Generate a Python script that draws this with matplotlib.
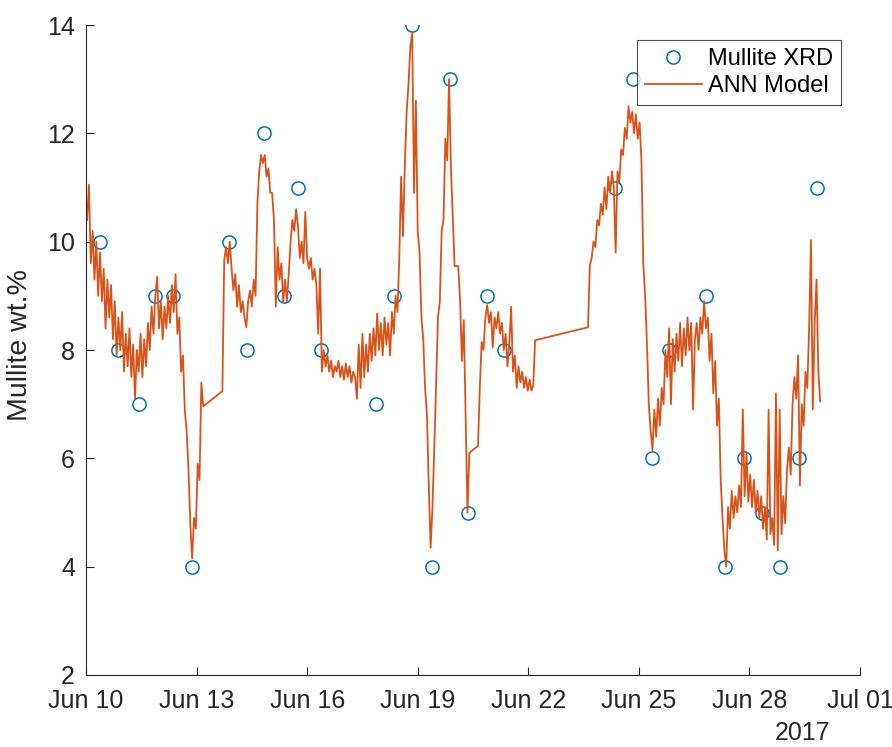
import numpy as np
import pandas as pd
import matplotlib
matplotlib.use("Agg")
import matplotlib.pyplot as plt
import matplotlib.dates as mdates

plt.rcParams['font.family'] = ['Liberation Sans', 'DejaVu Sans']

t0 = pd.Timestamp('2017-06-10')

# XRD measurements (days after Jun 10, wt.%)
xrd_days = [0.38, 0.87, 1.44, 1.87, 2.36, 2.88,
            3.88, 4.37, 4.83, 5.38, 5.76, 6.37,
            7.87, 8.36, 8.85, 9.38, 9.88, 10.37, 10.87, 11.35,
            14.35, 14.85, 15.35, 15.82, 16.83, 17.35, 17.84, 18.34, 18.84, 19.34, 19.83]
xrd_vals = [10, 8, 7, 9, 9, 4,
            10, 8, 12, 9, 11, 8,
            7, 9, 14, 4, 13, 5, 9, 8,
            11, 13, 6, 8, 9, 4, 6, 5, 4, 6, 11]

# ANN model output, sampled every 0.05 day, in blocks separated by gaps
dt = 0.05

ann_a_start = 0.03
ann_a = [10.4, 11.05, 9.6, 10.2, 9.3, 10.0, 9.0, 9.8, 8.9, 9.5,
         8.4, 9.3, 8.6, 9.2, 8.2, 8.9, 7.9, 8.6, 8.0, 8.7,
         7.6, 8.3, 7.7, 8.4, 7.5, 8.1, 7.1, 8.0, 7.6, 8.3,
         7.5, 8.2, 7.7, 8.5, 8.0, 8.8, 8.3, 9.0, 9.35, 8.4,
         8.9, 8.2, 8.8, 8.4, 9.0, 8.5, 9.2, 8.7, 9.4, 8.3,
         8.6, 7.6, 7.9, 6.9, 6.5, 5.8, 4.8, 4.15, 4.9, 4.7,
         5.9, 5.6, 7.4, 6.96]

ann_b_start = 3.70
ann_b = [7.24, 9.65, 9.9, 9.6, 10.0, 9.5, 9.1, 9.4, 8.8, 9.2,
         8.7, 8.9, 8.6, 8.42, 8.9, 9.1, 8.8, 9.3, 9.0, 10.7,
         11.3, 11.6, 11.45, 11.6, 11.2, 11.35, 10.9, 10.9, 10.4, 8.8,
         9.9, 9.3, 9.6, 8.9, 9.3, 8.9, 9.4, 10.0, 10.4, 10.2,
         10.6, 10.3, 9.7, 10.0, 9.6, 10.55, 9.7, 9.5, 9.7, 9.3,
         9.5, 9.2, 8.3, 9.5, 7.6, 8.0, 7.7, 7.9, 7.6, 7.8,
         7.5, 7.7, 7.6, 7.8, 7.5, 7.7, 7.45, 7.75, 7.5, 7.7,
         7.4, 7.6, 7.5, 7.1, 8.1, 7.3, 8.3, 7.5, 8.1, 7.6,
         8.3, 7.8, 8.4, 7.9, 8.67, 8.0, 8.5, 7.9, 8.6, 8.1,
         8.5, 7.9, 8.7, 8.3, 9.0, 8.7, 9.7, 11.2, 10.1, 11.4,
         12.4, 12.9, 13.6, 13.85, 10.9, 12.6, 10.2, 9.8, 8.6, 8.2,
         7.3, 6.8, 5.5, 4.35, 5.1, 6.2, 7.4, 8.6, 8.9, 10.2,
         10.4, 11.9, 11.5, 13.0, 11.4, 10.5, 9.55]

ann_c_start = 10.10
ann_c = [9.55, 8.9, 7.8, 8.55, 6.8, 5.0, 6.1]

ann_d_start = 10.635
ann_d = [6.23, 7.3, 8.15, 8.0, 8.6, 8.83, 8.5, 8.7, 8.05, 8.6,
         8.4, 8.7, 8.3, 8.5, 8.0, 8.3, 7.7, 8.1, 8.8, 7.6,
         7.9, 7.3, 7.7, 7.4, 7.6, 7.3, 7.5, 7.25, 7.45, 7.25,
         7.35, 8.18]

ann_e_start = 13.62
ann_e = [8.42, 9.57, 9.7, 10.0, 9.9, 10.4, 10.3, 10.7, 10.5, 11.0,
         10.6, 11.2, 10.9, 11.3, 11.0, 9.8, 11.3, 11.1, 11.7, 11.6,
         12.1, 11.9, 12.5, 12.2, 12.4, 12.0, 12.35, 11.9, 12.2, 11.5,
         9.6, 9.0, 8.1, 7.0, 6.5, 6.15, 6.9, 6.4, 7.1, 6.6,
         7.3, 7.0, 8.0, 7.5, 8.4, 7.0, 8.2, 7.6, 8.3, 7.8,
         8.5, 7.7, 8.4, 7.9, 8.6, 8.0, 8.5, 6.9, 8.2, 8.5,
         8.0, 8.6, 8.3, 8.9, 8.4, 8.6, 7.8, 8.3, 7.2, 7.8,
         6.6, 7.1, 5.6, 4.9, 4.3, 4.0, 5.1, 4.7, 5.4, 4.9,
         5.3, 5.0, 5.5, 5.1, 6.9, 5.3, 6.1, 5.2, 5.7, 5.1,
         5.6, 5.0, 5.4, 4.9, 5.3, 4.7, 5.1, 4.5, 6.9, 4.6,
         4.9, 4.4, 7.2, 4.3, 6.9, 4.6, 5.3, 4.8, 5.8, 6.2,
         5.7, 7.0, 7.5, 7.1, 7.9, 5.5, 7.0, 6.6, 7.6, 7.3,
         8.4, 10.03, 6.9, 8.5, 9.3, 7.6, 7.05]

ann_days = []
ann_vals = []
for start, vals in [(ann_a_start, ann_a), (ann_b_start, ann_b), (ann_c_start, ann_c),
                    (ann_d_start, ann_d), (ann_e_start, ann_e)]:
    ann_days.extend(start + dt * np.arange(len(vals)))
    ann_vals.extend(vals)

xrd_t = t0 + pd.to_timedelta(xrd_days, unit='D')
ann_t = t0 + pd.to_timedelta(ann_days, unit='D')

fig = plt.figure(figsize=(8.92, 7.47), dpi=100)
ax = fig.add_axes([86 / 892, 72 / 747, 774 / 892, 650 / 747])

axcol = '#262626'
ax.plot(xrd_t, xrd_vals, 'o', mfc='none', mec='#0072BD', mew=1.1, ms=9.5, label='Mullite XRD')
ax.plot(ann_t, ann_vals, '-', color='#D95319', lw=1.3, label='ANN Model')

ax.set_xlim(pd.Timestamp('2017-06-10'), pd.Timestamp('2017-07-01'))
ax.set_ylim(2, 14)
ax.set_yticks(range(2, 15, 2))
ax.xaxis.set_major_locator(mdates.DayLocator(bymonthday=[1, 10, 13, 16, 19, 22, 25, 28]))
ax.xaxis.set_major_formatter(mdates.DateFormatter('%b %d'))

for side in ['top', 'right']:
    ax.spines[side].set_visible(False)
for side in ['left', 'bottom']:
    ax.spines[side].set_color(axcol)
    ax.spines[side].set_linewidth(0.8)
ax.tick_params(direction='in', length=6, width=0.8, colors=axcol, labelsize=18)
ax.tick_params(axis='x', pad=10)
ax.tick_params(axis='y', pad=8)
ax.set_ylabel('Mullite wt.%', fontsize=20.5, color=axcol)
ax.yaxis.set_label_coords(-0.0685, 0.508)
fig.text(803 / 892, 1 - 721 / 747, '2017', ha='center', va='top',
         fontsize=18, color=axcol)

leg = ax.legend(loc='upper right', bbox_to_anchor=(841 / 892, 1 - 40 / 747),
                bbox_transform=fig.transFigure, borderaxespad=0, fontsize=17,
                frameon=True, fancybox=False, edgecolor=axcol, handlelength=2.4,
                borderpad=0.35, labelspacing=0.2, handletextpad=0.25)
leg.get_frame().set_linewidth(0.8)

fig.savefig('out.png', dpi=100)
